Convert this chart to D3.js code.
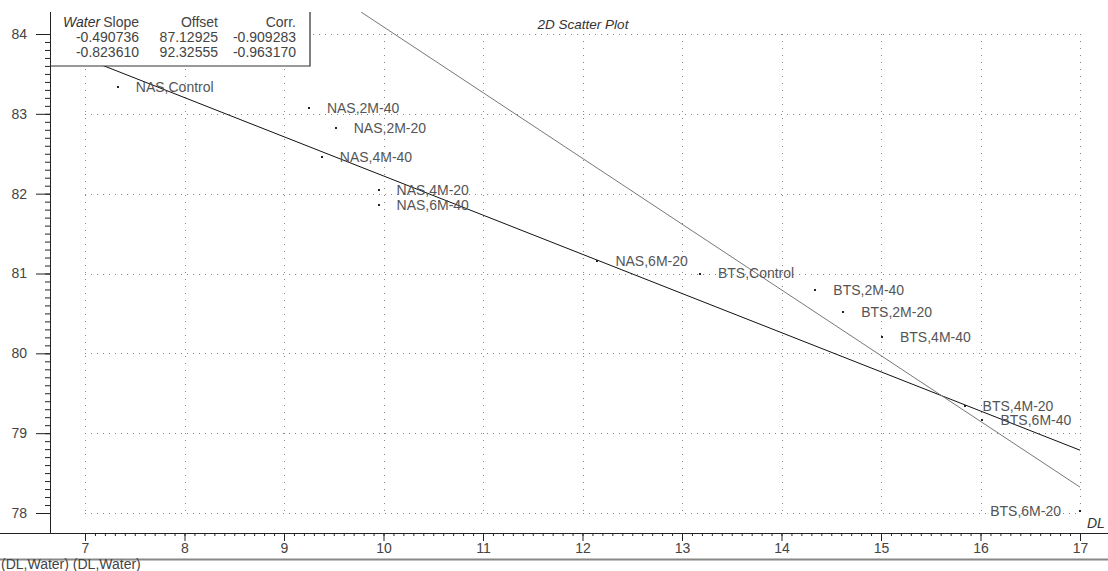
<!DOCTYPE html>
<html><head><meta charset="utf-8">
<script src="https://cdn.jsdelivr.net/npm/d3@7"></script>
<style>
body{margin:0;background:#fff}
svg{display:block}
text{font-family:"Liberation Sans",Arial,sans-serif}
</style>
</head><body>
<svg id="c" width="1108" height="571"></svg>
<script>
const labels = ["NAS,Control","NAS,2M-40","NAS,2M-20","NAS,4M-40","NAS,4M-20","NAS,6M-40","NAS,6M-20",
                "BTS,Control","BTS,2M-40","BTS,2M-20","BTS,4M-40","BTS,4M-20","BTS,6M-40","BTS,6M-20"];
const dl    = [7.33, 9.25, 9.52, 9.38, 9.95, 9.95, 12.15, 13.18, 14.34, 14.62, 15.01, 15.84, 16.02, 17.00];
const water = [83.34, 83.07, 82.82, 82.46, 82.04, 81.86, 81.16, 81.00, 80.79, 80.52, 80.20, 79.34, 79.16, 78.02];
const labelSide = ["r","r","r","r","r","r","r","r","r","r","r","r","r","l"];
const slopes  = [-0.490736, -0.823610];
const offsets = [87.12925, 92.32555];
const corrs   = [-0.909283, -0.963170];
const xTicks = [7,8,9,10,11,12,13,14,15,16,17];
const yTicks = [78,79,80,81,82,83,84];

const svg = d3.select("#c");
const W = 1108, H = 571;
const x = d3.scaleLinear().domain([7,17]).range([85,1080]);
const y = d3.scaleLinear().domain([78,84]).range([513,34]);
const axisX0 = 50, axisY0 = 533, plotTop = 12;

// grid
const grid = svg.append("g").attr("stroke","#888").attr("stroke-width",1);
grid.selectAll(".vg").data(xTicks).join("line").attr("class","vg")
  .attr("stroke-dasharray","1,6")
  .attr("x1",d=>Math.round(x(d))+0.5).attr("x2",d=>Math.round(x(d))+0.5)
  .attr("y1",y(84)).attr("y2",y(78));
grid.selectAll(".hg").data(yTicks).join("line").attr("class","hg")
  .attr("stroke-dasharray","1,5")
  .attr("y1",d=>Math.round(y(d))+0.5).attr("y2",d=>Math.round(y(d))+0.5)
  .attr("x1",x(7)).attr("x2",x(17));

// regression lines
svg.append("clipPath").attr("id","pc").append("rect")
  .attr("x",axisX0).attr("y",plotTop).attr("width",W-axisX0).attr("height",axisY0-plotTop);
const lines = svg.append("g").attr("clip-path","url(#pc)");
const lineColors = ["#111","#777"];
slopes.forEach((s,i)=>{
  const o = offsets[i];
  let xa = x.invert(axisX0);
  const yTopVal = y.invert(plotTop);
  const xAtTop = (yTopVal - o)/s;
  if (xAtTop > xa) xa = xAtTop;
  const xb = 17;
  lines.append("line")
    .attr("x1",x(xa)).attr("y1",y(s*xa+o))
    .attr("x2",x(xb)).attr("y2",y(s*xb+o))
    .attr("stroke",lineColors[i]).attr("stroke-width",1);
});

// points
const pts = svg.append("g");
pts.selectAll("rect").data(dl).join("rect")
  .attr("x",(d)=>Math.round(x(d))-1).attr("y",(d,i)=>Math.round(y(water[i]))-1)
  .attr("width",2).attr("height",2).attr("fill","#222");
pts.selectAll("text").data(labels).join("text")
  .attr("x",(d,i)=> labelSide[i]==="r" ? x(dl[i])+18 : x(dl[i])-19)
  .attr("y",(d,i)=> y(water[i]))
  .attr("dy","0.35em")
  .attr("text-anchor",(d,i)=> labelSide[i]==="r" ? "start" : "end")
  .attr("font-size","14px").attr("fill","#555")
  .text(d=>d);

// x axis
const xMinor = d3.range(70,171).map(v=>v/10);
const gx = svg.append("g").attr("transform",`translate(0,${axisY0})`);
gx.call(d3.axisBottom(x).tickValues(xMinor).tickSize(3).tickFormat(""))
  .call(g=>g.select(".domain").remove())
  .call(g=>g.selectAll("line").attr("stroke","#222"));
const gx2 = svg.append("g").attr("transform",`translate(0,${axisY0})`);
gx2.call(d3.axisBottom(x).tickValues(xTicks).tickSize(8).tickPadding(2).tickFormat(d3.format("d")))
  .call(g=>g.select(".domain").remove())
  .call(g=>g.selectAll("line").attr("stroke","#222"))
  .call(g=>g.selectAll("text").attr("font-size","14px").attr("fill","#444")
        .style("font-family","'Liberation Sans',Arial,sans-serif"));
svg.append("line").attr("x1",0).attr("x2",W).attr("y1",axisY0+0.5).attr("y2",axisY0+0.5)
  .attr("stroke","#222").attr("stroke-width",1);

// y axis
const yMinor = d3.range(780,841).map(v=>v/10);
const gy = svg.append("g").attr("transform",`translate(${axisX0},0)`);
gy.call(d3.axisLeft(y).tickValues(yMinor).tickSize(5).tickFormat(""))
  .call(g=>g.select(".domain").remove())
  .call(g=>g.selectAll("line").attr("stroke","#222"));
const gy2 = svg.append("g").attr("transform",`translate(${axisX0},0)`);
gy2.call(d3.axisLeft(y).tickValues(yTicks).tickSize(14).tickPadding(9).tickFormat(d3.format("d")))
  .call(g=>g.select(".domain").remove())
  .call(g=>g.selectAll("line").attr("stroke","#222"))
  .call(g=>g.selectAll("text").attr("font-size","14px").attr("fill","#444")
        .style("font-family","'Liberation Sans',Arial,sans-serif"));
svg.append("line").attr("x1",axisX0+0.5).attr("x2",axisX0+0.5).attr("y1",plotTop).attr("y2",axisY0)
  .attr("stroke","#222").attr("stroke-width",1);

// legend box
const lg = svg.append("g");
lg.append("rect").attr("x",axisX0+1).attr("y",plotTop).attr("width",259).attr("height",54).attr("fill","#fff");
lg.append("line").attr("x1",axisX0).attr("x2",310).attr("y1",66).attr("y2",66).attr("stroke","#333").attr("stroke-width",1);
lg.append("line").attr("x1",310).attr("x2",310).attr("y1",plotTop).attr("y2",66.5).attr("stroke","#555").attr("stroke-width",1.5);
const colX = [139,218,296];
lg.append("text").attr("x",63).attr("y",27).attr("font-size","14px").attr("font-style","italic").attr("fill","#333").text("Water");
["Slope","Offset","Corr."].forEach((t,j)=>{
  lg.append("text").attr("x",colX[j]).attr("y",27).attr("text-anchor","end").attr("font-size","14px").attr("fill","#444").text(t);
});
slopes.forEach((s,i)=>{
  const vals = [d3.format(".6f")(s), d3.format(".5f")(offsets[i]), d3.format(".6f")(corrs[i])];
  vals.forEach((v,j)=>{
    lg.append("text").attr("x",colX[j]).attr("y",42+15*i).attr("text-anchor","end")
      .attr("font-size","14px").attr("fill","#444").text(v.replace("−","-"));
  });
});

// title and axis names
svg.append("text").attr("x",583).attr("y",29).attr("text-anchor","middle").attr("font-size","13.5px")
  .attr("font-style","italic").attr("fill","#333").text("2D Scatter Plot");
svg.append("text").attr("x",1087).attr("y",528).attr("font-size","14px")
  .attr("font-style","italic").attr("fill","#333").text("DL");

// footer
svg.append("line").attr("x1",0).attr("x2",W).attr("y1",559.5).attr("y2",559.5).attr("stroke","#888").attr("stroke-width",2);
svg.append("text").attr("x",1).attr("y",568.5).attr("font-size","14px").attr("fill","#444").text("(DL,Water) (DL,Water)");
</script>
</body></html>
